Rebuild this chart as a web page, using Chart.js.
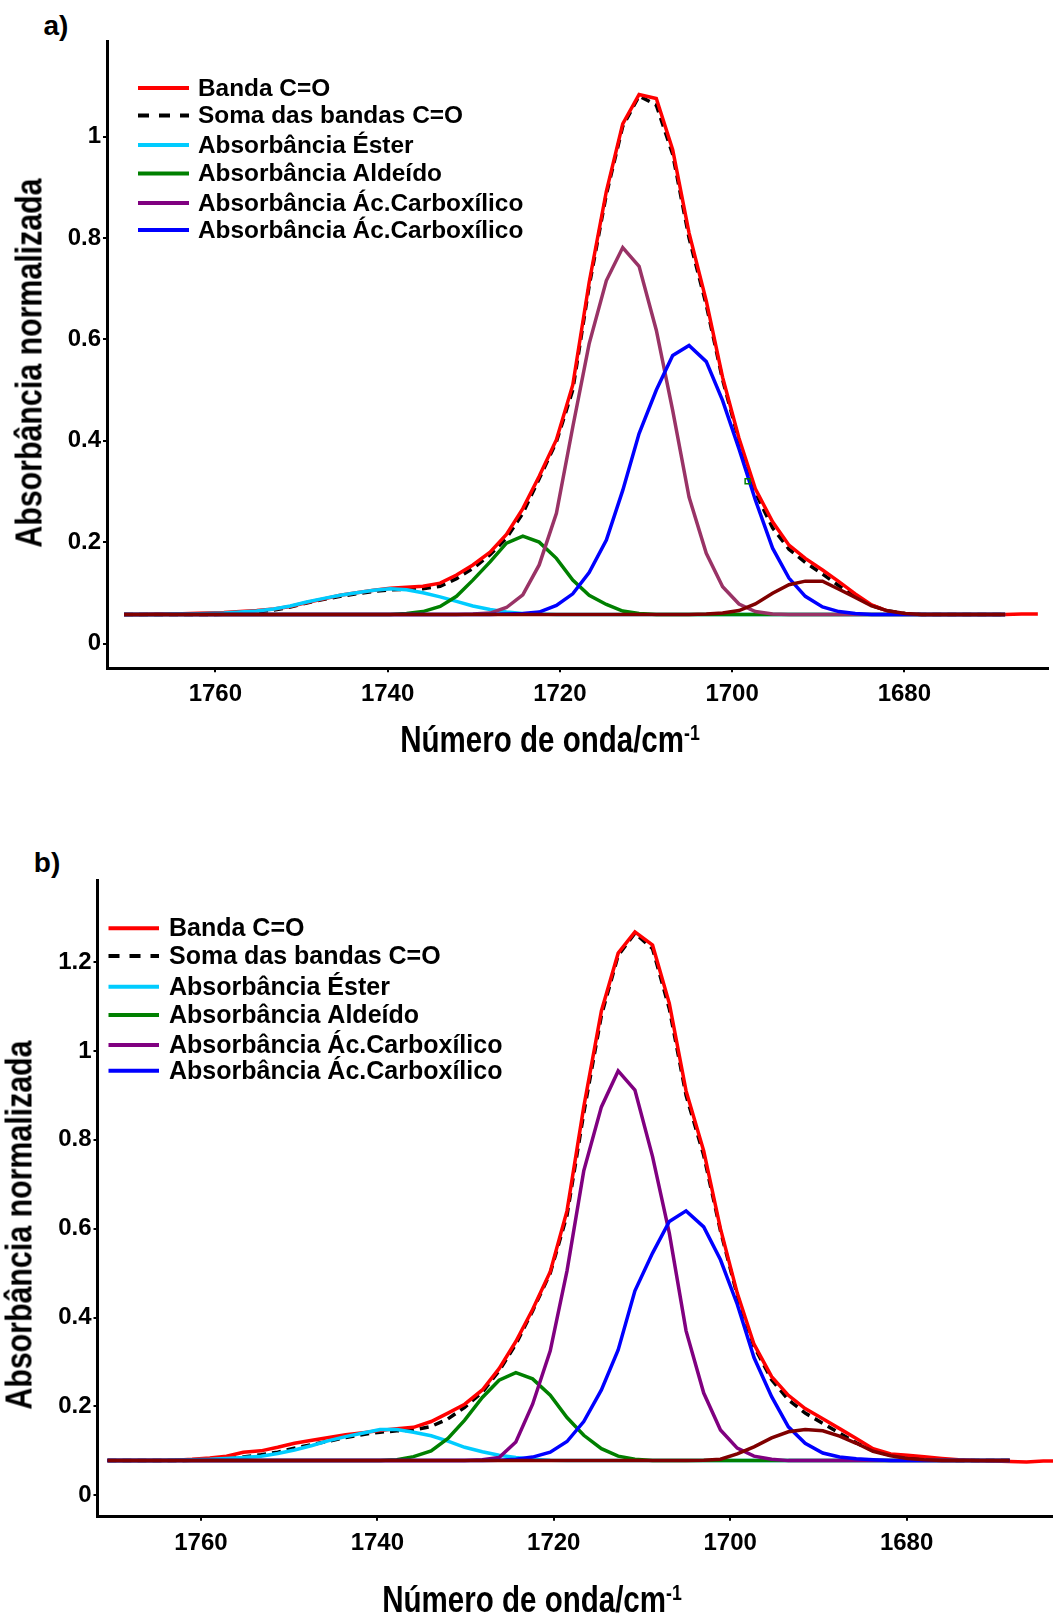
<!DOCTYPE html>
<html>
<head>
<meta charset="utf-8">
<script src="https://cdn.jsdelivr.net/npm/chart.js@4.4.1/dist/chart.umd.min.js"></script>
<style>
  body { margin: 0; background: #fff; width: 1053px; height: 1621px; position: relative; overflow: hidden;
         font-family: "Liberation Sans", Arial, sans-serif; }
  canvas { position: absolute; left: 0; }
  .lbl { position: absolute; font-weight: bold; color: #000; white-space: nowrap; line-height: 1;
         transform: translate(-50%, -50%); }
  .xt { font-size: 36px; transform: translate(-50%, -50%) scaleX(0.82); }
  .yt { font-size: 37px; transform: translate(-50%, -50%) rotate(-90deg) scaleX(0.82); }
  .xt sup { font-size: 60%; vertical-align: 0.55em; }
  .pn { font-size: 28px; }
</style>
</head>
<body>
<div class="lbl pn" style="left:56px; top:26px;">a)</div>
<canvas id="chartA" width="1053" height="800" style="top:0px"></canvas>
<div class="lbl yt" style="left:29px; top:363px;">Absorbância normalizada</div>
<div class="lbl xt" style="left:550px; top:740px;">Número de onda/cm<sup>-1</sup></div>

<div class="lbl pn" style="left:47px; top:863px;">b)</div>
<canvas id="chartB" width="1053" height="821" style="top:800px"></canvas>
<div class="lbl yt" style="left:19px; top:1225px;">Absorbância normalizada</div>
<div class="lbl xt" style="left:532px; top:1600px;">Número de onda/cm<sup>-1</sup></div>

<script>
// wavenumber grid (cm-1), same for both spectra
const wavenumber = [
  1770.6, 1768.7, 1766.7, 1764.8, 1762.9, 1761.0, 1759.0, 1757.1, 1755.2, 1753.2,
  1751.3, 1749.4, 1747.4, 1745.5, 1743.6, 1741.6, 1739.7, 1737.8, 1735.9, 1733.9,
  1732.0, 1730.1, 1728.1, 1726.2, 1724.3, 1722.4, 1720.4, 1718.5, 1716.6, 1714.6,
  1712.7, 1710.8, 1708.8, 1706.9, 1705.0, 1703.0, 1701.1, 1699.2, 1697.3, 1695.3,
  1693.4, 1691.5, 1689.5, 1687.6, 1685.7, 1683.8, 1681.8, 1679.9, 1678.0, 1676.0,
  1674.1, 1672.2, 1670.2, 1668.3, 1666.4, 1664.5, 1662.5
];
const xTicks = [1760, 1740, 1720, 1700, 1680];
const yTicksA = [0, 0.2, 0.4, 0.6, 0.8, 1];
const yTicksB = [0, 0.2, 0.4, 0.6, 0.8, 1, 1.2];
const legendLabels = ["Banda C=O", "Soma das bandas C=O", "Absorbância Éster", "Absorbância Aldeído",
                      "Absorbância Ác.Carboxílico", "Absorbância Ác.Carboxílico"];

// a)
const bandaA = [
  0.057, 0.057, 0.058, 0.058, 0.059, 0.060, 0.061, 0.063, 0.065, 0.068,
  0.073, 0.081, 0.088, 0.095, 0.100, 0.105, 0.109, 0.111, 0.113, 0.119,
  0.135, 0.155, 0.180, 0.215, 0.266, 0.330, 0.402, 0.510, 0.712, 0.892,
  1.025, 1.083, 1.075, 0.974, 0.810, 0.676, 0.525, 0.405, 0.305, 0.240,
  0.194, 0.168, 0.145, 0.122, 0.098, 0.076, 0.063, 0.058, 0.057, 0.057,
  0.057, 0.057, 0.057, 0.057, 0.058, 0.058
];
const somaA = [
  0.057, 0.057, 0.057, 0.057, 0.057, 0.057, 0.058, 0.060, 0.062, 0.066,
  0.072, 0.080, 0.087, 0.093, 0.098, 0.103, 0.106, 0.107, 0.108, 0.113,
  0.128, 0.148, 0.175, 0.208, 0.257, 0.325, 0.398, 0.500, 0.705, 0.886,
  1.020, 1.080, 1.062, 0.965, 0.800, 0.668, 0.520, 0.400, 0.298, 0.228,
  0.186, 0.160, 0.137, 0.114, 0.093, 0.075, 0.064, 0.059, 0.057, 0.057,
  0.057, 0.057, 0.057, 0.057
];
const esterA = [
  0.057, 0.057, 0.057, 0.058, 0.058, 0.059, 0.060, 0.062, 0.064, 0.068,
  0.074, 0.082, 0.089, 0.095, 0.100, 0.105, 0.108, 0.106, 0.100, 0.092,
  0.083, 0.074, 0.067, 0.062, 0.059, 0.058, 0.057, 0.057, 0.057, 0.057,
  0.057, 0.057, 0.057, 0.057, 0.057, 0.057, 0.057, 0.057, 0.057, 0.057,
  0.057, 0.057, 0.057, 0.057, 0.057, 0.057, 0.057, 0.057, 0.057, 0.057,
  0.057, 0.057, 0.057, 0.057
];
const aldeidoA = [
  0.057, 0.057, 0.057, 0.057, 0.057, 0.057, 0.057, 0.057, 0.057, 0.057,
  0.057, 0.057, 0.057, 0.057, 0.057, 0.057, 0.057, 0.059, 0.063, 0.073,
  0.093, 0.125, 0.161, 0.198, 0.212, 0.200, 0.168, 0.125, 0.095, 0.077,
  0.064, 0.059, 0.057, 0.057, 0.057, 0.057, 0.057, 0.057, 0.057, 0.057,
  0.057, 0.057, 0.057, 0.057, 0.057, 0.057, 0.057, 0.057, 0.057, 0.057,
  0.057, 0.057, 0.057, 0.057
];
const acidoA1 = [
  0.057, 0.057, 0.057, 0.057, 0.057, 0.057, 0.057, 0.057, 0.057, 0.057,
  0.057, 0.057, 0.057, 0.057, 0.057, 0.057, 0.057, 0.057, 0.057, 0.057,
  0.057, 0.058, 0.060, 0.071, 0.096, 0.155, 0.257, 0.427, 0.591, 0.716,
  0.781, 0.744, 0.618, 0.460, 0.289, 0.178, 0.112, 0.078, 0.063, 0.058,
  0.057, 0.057, 0.057, 0.057, 0.057, 0.057, 0.057, 0.057, 0.057, 0.057,
  0.057, 0.057, 0.057, 0.057
];
const acidoA2 = [
  0.057, 0.057, 0.057, 0.057, 0.057, 0.057, 0.057, 0.057, 0.057, 0.057,
  0.057, 0.057, 0.057, 0.057, 0.057, 0.057, 0.057, 0.057, 0.057, 0.057,
  0.057, 0.057, 0.057, 0.058, 0.059, 0.062, 0.075, 0.098, 0.140, 0.204,
  0.302, 0.414, 0.500, 0.568, 0.588, 0.556, 0.479, 0.384, 0.283, 0.188,
  0.129, 0.093, 0.072, 0.063, 0.059, 0.057, 0.057, 0.057, 0.057, 0.057,
  0.057, 0.057, 0.057, 0.057
];
const extraA = [
  0.057, 0.057, 0.057, 0.057, 0.057, 0.057, 0.057, 0.057, 0.057, 0.057,
  0.057, 0.057, 0.057, 0.057, 0.057, 0.057, 0.057, 0.057, 0.057, 0.057,
  0.057, 0.057, 0.057, 0.057, 0.057, 0.057, 0.057, 0.057, 0.057, 0.057,
  0.057, 0.057, 0.057, 0.057, 0.057, 0.058, 0.060, 0.065, 0.078, 0.099,
  0.116, 0.123, 0.123, 0.107, 0.091, 0.074, 0.064, 0.059, 0.057, 0.057,
  0.057, 0.057, 0.057, 0.057
];
const pontoA = [{ x: 1698.2, y: 0.32 }];

// b)
const bandaB = [
  0.078, 0.078, 0.078, 0.078, 0.079, 0.081, 0.084, 0.088, 0.097, 0.100,
  0.108, 0.117, 0.124, 0.130, 0.136, 0.141, 0.146, 0.150, 0.153, 0.166,
  0.185, 0.205, 0.237, 0.285, 0.346, 0.418, 0.503, 0.640, 0.874, 1.090,
  1.220, 1.268, 1.238, 1.107, 0.910, 0.775, 0.600, 0.455, 0.340, 0.267,
  0.225, 0.195, 0.172, 0.150, 0.128, 0.105, 0.093, 0.090, 0.087, 0.083,
  0.080, 0.078, 0.077, 0.076, 0.075, 0.077, 0.077
];
const somaB = [
  0.078, 0.078, 0.078, 0.078, 0.078, 0.079, 0.080, 0.082, 0.086, 0.091,
  0.097, 0.106, 0.114, 0.122, 0.130, 0.137, 0.142, 0.145, 0.147, 0.155,
  0.172, 0.198, 0.232, 0.280, 0.340, 0.415, 0.500, 0.630, 0.860, 1.080,
  1.215, 1.265, 1.230, 1.095, 0.900, 0.765, 0.595, 0.450, 0.335, 0.260,
  0.215, 0.185, 0.162, 0.140, 0.118, 0.100, 0.090, 0.085, 0.082, 0.080,
  0.078, 0.078, 0.078, 0.078
];
const esterB = [
  0.078, 0.078, 0.078, 0.078, 0.079, 0.080, 0.081, 0.083, 0.085, 0.088,
  0.094, 0.102, 0.112, 0.123, 0.132, 0.140, 0.148, 0.148, 0.142, 0.134,
  0.122, 0.108, 0.098, 0.090, 0.085, 0.081, 0.079, 0.078, 0.078, 0.078,
  0.078, 0.078, 0.078, 0.078, 0.078, 0.078, 0.078, 0.078, 0.078, 0.078,
  0.078, 0.078, 0.078, 0.078, 0.078, 0.078, 0.078, 0.078, 0.078, 0.078,
  0.078, 0.078, 0.078, 0.078
];
const aldeidoB = [
  0.078, 0.078, 0.078, 0.078, 0.078, 0.078, 0.078, 0.078, 0.078, 0.078,
  0.078, 0.078, 0.078, 0.078, 0.078, 0.078, 0.078, 0.080, 0.087, 0.100,
  0.128, 0.169, 0.220, 0.259, 0.276, 0.262, 0.225, 0.175, 0.135, 0.105,
  0.088, 0.081, 0.078, 0.078, 0.078, 0.078, 0.078, 0.078, 0.078, 0.078,
  0.078, 0.078, 0.078, 0.078, 0.078, 0.078, 0.078, 0.078, 0.078, 0.078,
  0.078, 0.078, 0.078, 0.078
];
const acidoB1 = [
  0.078, 0.078, 0.078, 0.078, 0.078, 0.078, 0.078, 0.078, 0.078, 0.078,
  0.078, 0.078, 0.078, 0.078, 0.078, 0.078, 0.078, 0.078, 0.078, 0.078,
  0.078, 0.078, 0.080, 0.085, 0.120, 0.205, 0.325, 0.505, 0.730, 0.874,
  0.955, 0.912, 0.762, 0.590, 0.370, 0.230, 0.147, 0.106, 0.088, 0.081,
  0.078, 0.078, 0.078, 0.078, 0.078, 0.078, 0.078, 0.078, 0.078, 0.078,
  0.078, 0.078, 0.078, 0.078
];
const acidoB2 = [
  0.078, 0.078, 0.078, 0.078, 0.078, 0.078, 0.078, 0.078, 0.078, 0.078,
  0.078, 0.078, 0.078, 0.078, 0.078, 0.078, 0.078, 0.078, 0.078, 0.078,
  0.078, 0.078, 0.078, 0.079, 0.081, 0.086, 0.097, 0.121, 0.166, 0.237,
  0.327, 0.460, 0.545, 0.616, 0.640, 0.604, 0.530, 0.430, 0.310, 0.222,
  0.154, 0.117, 0.095, 0.086, 0.082, 0.080, 0.078, 0.078, 0.078, 0.078,
  0.078, 0.078, 0.078, 0.078
];
const extraB = [
  0.078, 0.078, 0.078, 0.078, 0.078, 0.078, 0.078, 0.078, 0.078, 0.078,
  0.078, 0.078, 0.078, 0.078, 0.078, 0.078, 0.078, 0.078, 0.078, 0.078,
  0.078, 0.078, 0.078, 0.078, 0.078, 0.078, 0.078, 0.078, 0.078, 0.078,
  0.078, 0.078, 0.078, 0.078, 0.078, 0.079, 0.081, 0.093, 0.109, 0.129,
  0.143, 0.148, 0.145, 0.133, 0.117, 0.099, 0.089, 0.083, 0.080, 0.078,
  0.078, 0.078, 0.078, 0.078
];

const FONT = '"Liberation Sans", Arial, sans-serif';

// legend drawn inside the plot, one row per entry
const insideLegend = {
  id: 'insideLegend',
  afterDraw(chart, args, opts) {
    const ctx = chart.ctx;
    ctx.save();
    ctx.font = 'bold ' + opts.size + 'px ' + FONT;
    ctx.textBaseline = 'middle';
    opts.rows.forEach((y, i) => {
      const ds = chart.data.datasets[i];
      ctx.strokeStyle = ds.legendColor || ds.borderColor;
      ctx.lineWidth = 4;
      ctx.setLineDash(ds.borderDash ? [11, 10] : []);
      ctx.beginPath();
      ctx.moveTo(opts.x0, y);
      ctx.lineTo(opts.x1, y);
      ctx.stroke();
      ctx.setLineDash([]);
      ctx.fillStyle = '#000';
      ctx.fillText(legendLabels[i], opts.tx, y + 1);
    });
    ctx.restore();
  }
};

function line(label, data, color, order, extra) {
  return Object.assign({ label: label, data: data, borderColor: color, backgroundColor: color,
    borderWidth: 3.5, pointRadius: 0, tension: 0, fill: false, order: order }, extra || {});
}

function makeChart(id, datasets, yTicks, f) {
  const axisFont = { family: FONT, size: 24, weight: 'bold' };
  new Chart(document.getElementById(id), {
    type: 'line',
    data: { labels: wavenumber, datasets: datasets },
    options: {
      responsive: false,
      animation: false,
      events: [],
      layout: { padding: { top: f.top, left: 0, right: 0, bottom: 0 } },
      plugins: { legend: { display: false }, tooltip: { enabled: false }, insideLegend: f.legend },
      scales: {
        x: {
          type: 'linear', reverse: true, min: f.xmin, max: f.xmax,
          afterFit: s => { s.height = f.xh; },
          afterBuildTicks: s => { s.ticks = xTicks.map(v => ({ value: v })); },
          ticks: { font: axisFont, color: '#000', padding: 8, maxRotation: 0, callback: v => String(v) },
          grid: { drawOnChartArea: false, color: '#000', lineWidth: 2, tickLength: 4 },
          border: { color: '#000', width: 3 }
        },
        y: {
          type: 'linear', min: f.ymin, max: f.ymax,
          afterFit: s => { s.width = f.yw; },
          afterBuildTicks: s => { s.ticks = yTicks.map(v => ({ value: v })); },
          ticks: { font: axisFont, color: '#000', padding: 2, callback: v => String(v) },
          grid: { drawOnChartArea: false, color: '#000', lineWidth: 2, tickLength: 4 },
          border: { color: '#000', width: 3 }
        }
      }
    },
    plugins: [insideLegend]
  });
}

makeChart('chartA', [
  line(legendLabels[0], bandaA, '#ff0000', 5),
  line(legendLabels[1], somaA, '#000000', 6, { borderDash: [9, 6] }),
  line(legendLabels[2], esterA, '#00ccff', 4),
  line(legendLabels[3], aldeidoA, '#008000', 3),
  line(legendLabels[4], acidoA1, '#993366', 2, { legendColor: '#800080' }),
  line(legendLabels[5], acidoA2, '#0000ff', 1),
  line('', extraA, '#800000', 0),
  line('', pontoA, '#008000', 0, { showLine: false, pointRadius: 3.5, pointStyle: 'rect',
    backgroundColor: 'rgba(0,0,0,0)', pointBorderWidth: 1.5 })
], yTicksA, {
  top: 41, xh: 131.7, yw: 107, xmin: 1663.38, xmax: 1772.58, ymin: -0.0489, ymax: 1.1884,
  legend: { x0: 138, x1: 189, tx: 198, size: 24.4, rows: [88, 115.5, 145, 173.5, 203, 230] }
});

makeChart('chartB', [
  line(legendLabels[0], bandaB, '#ff0000', 5),
  line(legendLabels[1], somaB, '#000000', 6, { borderDash: [9, 6] }),
  line(legendLabels[2], esterB, '#00ccff', 4),
  line(legendLabels[3], aldeidoB, '#008000', 3),
  line(legendLabels[4], acidoB1, '#800080', 2),
  line(legendLabels[5], acidoB2, '#0000ff', 1),
  line('', extraB, '#800000', 0)
], yTicksB, {
  top: 80, xh: 104.3, yw: 97.5, xmin: 1663.4, xmax: 1771.73, ymin: -0.0482, ymax: 1.3846,
  legend: { x0: 108.5, x1: 159, tx: 169, size: 25, rows: [128.3, 156, 186.7, 215, 245, 270.7] }
});
</script>
</body>
</html>
